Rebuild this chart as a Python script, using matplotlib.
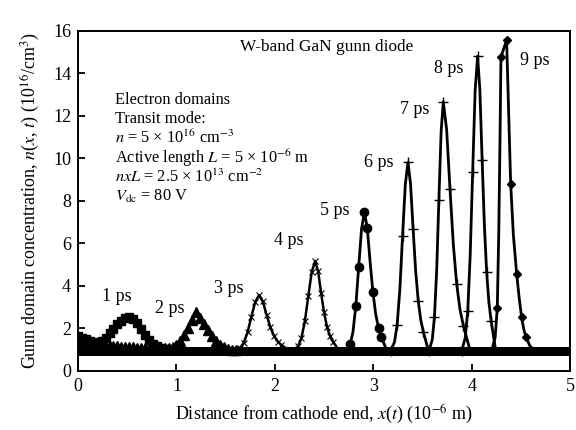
import matplotlib
matplotlib.use("Agg")
import matplotlib.pyplot as plt

plt.rcParams["font.family"] = ["Liberation Serif", "DejaVu Serif"]
plt.rcParams["mathtext.fontset"] = "stix"

# domain snapshots: x in 1e-6 m, n in 1e16 /cm^3
x1 = [0.00, 0.04, 0.08, 0.12, 0.16, 0.20, 0.24, 0.28, 0.32, 0.36, 0.40, 0.44, 0.48,
      0.52, 0.56, 0.60, 0.64, 0.68, 0.72, 0.76, 0.80, 0.84, 0.88, 0.92, 0.96, 1.00]
y1 = [1.62, 1.56, 1.48, 1.40, 1.33, 1.32, 1.40, 1.56, 1.77, 1.98, 2.18, 2.36, 2.50,
      2.55, 2.45, 2.25, 1.98, 1.70, 1.46, 1.28, 1.16, 1.08, 1.03, 1.00, 0.98, 0.97]

x2 = [0.00, 0.04, 0.08, 0.12, 0.16, 0.20, 0.24, 0.28, 0.32, 0.36, 0.40, 0.44, 0.48, 0.52,
      0.56, 0.60, 0.64, 0.68, 0.72, 0.76, 0.80, 0.84, 0.88, 0.92, 0.96, 1.00, 1.04, 1.08,
      1.12, 1.16, 1.20, 1.24, 1.28, 1.32, 1.36, 1.40, 1.44, 1.48, 1.52, 1.56, 1.60]
y2 = [1.36, 1.33, 1.30, 1.27, 1.24, 1.22, 1.20, 1.18, 1.16, 1.15, 1.14, 1.13, 1.12, 1.11,
      1.10, 1.09, 1.08, 1.07, 1.06, 1.05, 1.04, 1.04, 1.05, 1.07, 1.12, 1.22, 1.42, 1.70,
      2.02, 2.38, 2.75, 2.50, 2.20, 1.90, 1.62, 1.40, 1.22, 1.10, 1.03, 0.99, 0.97]

x3 = [1.588, 1.643, 1.682, 1.721, 1.760, 1.799, 1.838, 1.876, 1.914, 1.952, 1.990, 2.028, 2.066, 2.142]
y3 = [0.95, 1.06, 1.30, 1.80, 2.53, 3.24, 3.55, 3.26, 2.64, 2.06, 1.64, 1.37, 1.21, 0.95]

x4 = [2.184, 2.233, 2.268, 2.303, 2.338, 2.373, 2.408, 2.438, 2.468, 2.498, 2.528, 2.558, 2.588, 2.648]
y4 = [0.95, 1.14, 1.52, 2.32, 3.50, 4.65, 5.15, 4.68, 3.67, 2.74, 2.07, 1.64, 1.37, 0.95]

x5 = [2.722, 2.763, 2.792, 2.821, 2.850, 2.879, 2.908, 2.937, 2.965, 2.994, 3.022, 3.051, 3.079, 3.136]
y5 = [0.95, 1.24, 1.83, 3.06, 4.90, 6.68, 7.45, 6.72, 5.16, 3.71, 2.68, 2.01, 1.59, 0.95]

x6 = [3.174, 3.213, 3.240, 3.268, 3.295, 3.323, 3.350, 3.376, 3.402, 3.428, 3.454, 3.480, 3.506, 3.558]
y6 = [0.95, 1.34, 2.15, 3.83, 6.32, 8.76, 9.80, 8.80, 6.69, 4.71, 3.30, 2.39, 1.83, 0.95]

x7 = [3.565, 3.597, 3.619, 3.642, 3.664, 3.687, 3.709, 3.743, 3.777, 3.811, 3.845, 3.879, 3.913, 3.981]
y7 = [0.95, 1.47, 2.53, 4.75, 8.05, 11.27, 12.65, 11.33, 8.53, 5.92, 4.06, 2.86, 2.11, 0.95]

x8 = [3.897, 3.932, 3.957, 3.982, 4.007, 4.032, 4.057, 4.080, 4.103, 4.126, 4.149, 4.172, 4.195, 4.241]
y8 = [0.95, 1.56, 2.82, 5.45, 9.36, 13.17, 14.80, 13.24, 9.93, 6.84, 4.63, 3.21, 2.32, 0.95]

x9 = [4.200, 4.235, 4.257, 4.272, 4.285, 4.294, 4.322, 4.352, 4.372, 4.393, 4.420, 4.454,
      4.480, 4.504, 4.526, 4.548, 4.590, 4.640]
y9 = [0.95, 1.55, 2.96, 6.50, 11.00, 14.75, 15.15, 15.55, 12.20, 8.79, 6.40, 4.54,
      3.40, 2.51, 1.95, 1.57, 1.15, 0.95]

# background level shared by all snapshots (thick band at the bottom)
floor_x = [0.0, 5.0]
floor_y = [0.92, 0.92]

labels = ["1 ps", "2 ps", "3 ps", "4 ps", "5 ps", "6 ps", "7 ps", "8 ps", "9 ps"]
label_x = [0.39, 0.93, 1.53, 2.14, 2.61, 3.05, 3.42, 3.76, 4.64]
label_y = [3.48, 2.94, 3.88, 6.15, 7.56, 9.82, 12.27, 14.23, 14.62]

info = ["Electron domains",
        "Transit mode:",
        r"$n$ = 5 × 10$^{16}$ cm$^{-3}$",
        r"Active length $L$ = 5 × 10$^{-6}$ m",
        r"$nxL$ = 2.5 × 10$^{13}$ cm$^{-2}$",
        r"$V_{\rm dc}$ = 80 V"]

fig = plt.figure(figsize=(5.76, 4.30), dpi=100)
ax = fig.add_axes([0.1354, 0.1379, 0.855, 0.7907])

ax.plot(floor_x, floor_y, color="black", lw=6.5, solid_capstyle="butt", zorder=1)

ax.plot(x1, y1, color="black", lw=1.5, marker="s", ms=6, zorder=3)
ax.plot(x2, y2, color="black", lw=1.5, marker="^", ms=6.5, zorder=3)
ax.plot(x3, y3, color="black", lw=1.8, marker="x", ms=4.5, mew=0.8, zorder=3)
ax.plot(x4, y4, color="black", lw=1.8, marker="x", ms=4.5, mew=0.8, zorder=3)
ax.plot(x5, y5, color="black", lw=2.0, marker="o", ms=6,
        markevery=[1, 3, 4, 6, 7, 9, 11, 12], zorder=3)
for xs, ys in [(x6, y6), (x7, y7), (x8, y8)]:
    ax.plot(xs, ys, color="black", lw=2.0, marker="+", ms=7, mew=1.0,
            markevery=slice(0, None, 2), zorder=3)
ax.plot(x9, y9, color="black", lw=2.0, marker="D", ms=4.5,
        markevery=[2, 5, 7, 9, 11, 13, 15], zorder=3)

for t, lx, ly in zip(labels, label_x, label_y):
    ax.text(lx, ly, t, fontsize=13, ha="center", va="center")

ax.text(2.52, 15.23, "W-band GaN gunn diode", fontsize=12.4, ha="center", va="center")
for i, line in enumerate(info):
    ax.text(0.376, 12.74 - i * 0.91, line, fontsize=11.8, ha="left", va="center")

ax.set_xlim(0, 5)
ax.set_ylim(0, 16)
ax.set_xticks([0, 1, 2, 3, 4, 5])
ax.set_yticks([0, 2, 4, 6, 8, 10, 12, 14, 16])
ax.tick_params(direction="in", length=5, width=1.3, labelsize=13, pad=5)
for s in ax.spines.values():
    s.set_linewidth(1.4)

ax.set_xlabel(r"Distance from cathode end, $x$($t$) (10$^{-6}$ m)", fontsize=13, labelpad=6)
ax.set_ylabel(r"Gunn domain concentration, $n$($x$, $t$) (10$^{16}$/cm$^3$)", fontsize=13, labelpad=8)

fig.savefig("out.png", dpi=100)
